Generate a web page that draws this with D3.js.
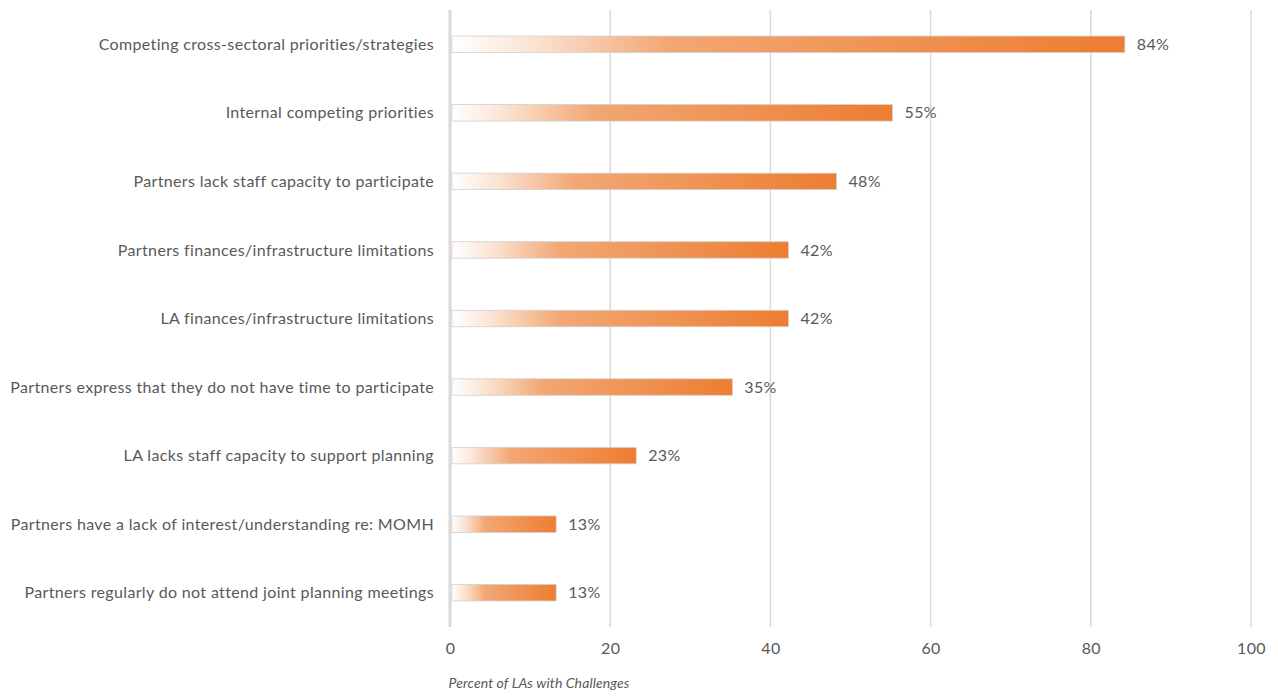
<!DOCTYPE html>
<html>
<head>
<meta charset="utf-8">
<script src="https://cdn.jsdelivr.net/npm/d3@7"></script>
<style>
  html, body { margin: 0; padding: 0; background: #fff; }
  svg { display: block; font-family: Lato, "Open Sans", sans-serif; }
</style>
</head>
<body>
<svg id="chart" width="1278" height="696"></svg>
<script>
// Challenges reported by local authorities (LAs)
const categories = [
  "Competing cross-sectoral priorities/strategies",
  "Internal competing priorities ",
  "Partners lack staff capacity to participate",
  "Partners finances/infrastructure limitations",
  "LA finances/infrastructure limitations",
  "Partners express that they do not have time to participate",
  "LA lacks staff capacity to support planning",
  "Partners have a lack of interest/understanding re: MOMH",
  "Partners regularly do not attend joint planning meetings"
];
const values = [84, 55, 48, 42, 42, 35, 23, 13, 13];
const xTicks = [0, 20, 40, 60, 80, 100];
const axisTitle = "Percent of LAs with Challenges";

const svg = d3.select("#chart");
const margin = { top: 10, right: 27, bottom: 69, left: 450 };
const W = 1278, H = 696;

const x = d3.scaleLinear().domain([0, 100]).range([margin.left, W - margin.right]);
const y = d3.scaleBand().domain(categories).range([margin.top, H - margin.bottom]).paddingInner(0.76).paddingOuter(0.38);

// per-bar gradient: pale at the base, full orange at the tip
const defs = svg.append("defs");
const grad = defs.append("linearGradient").attr("id", "barGrad")
  .attr("x1", "0%").attr("x2", "100%").attr("y1", "0%").attr("y2", "0%");
grad.append("stop").attr("offset", "0%").attr("stop-color", "#ffffff");
grad.append("stop").attr("offset", "12%").attr("stop-color", "#fbe3d3");
grad.append("stop").attr("offset", "32%").attr("stop-color", "#f2a774");
grad.append("stop").attr("offset", "100%").attr("stop-color", "#ed7d31");

// vertical gridlines
svg.append("g").selectAll("line").data(xTicks.filter(d => d > 0)).join("line")
  .attr("x1", d => x(d)).attr("x2", d => x(d))
  .attr("y1", margin.top).attr("y2", H - margin.bottom)
  .attr("stroke", "#d9d9d9").attr("stroke-width", 1.5);

// bars
svg.append("g").selectAll("rect").data(values).join("rect")
  .attr("x", x(0) + 2)
  .attr("y", (d, i) => y(categories[i]))
  .attr("width", d => x(d) - x(0))
  .attr("height", y.bandwidth())
  .attr("fill", "url(#barGrad)")
  .attr("stroke", "#d0d0d0").attr("stroke-width", 0.8);

// category axis line
svg.append("line")
  .attr("x1", x(0)).attr("x2", x(0))
  .attr("y1", margin.top).attr("y2", H - margin.bottom)
  .attr("stroke", "#d9d9d9").attr("stroke-width", 3);

const labelStyle = sel => sel
  .attr("font-size", 16)
  .attr("letter-spacing", 0.35)
  .attr("fill", "#595959");

// category labels
svg.append("g").selectAll("text").data(categories).join("text")
  .attr("x", x(0) - 16)
  .attr("y", d => y(d) + y.bandwidth() / 2)
  .attr("dy", "0.35em")
  .attr("text-anchor", "end")
  .call(labelStyle)
  .text(d => d);

// value labels
svg.append("g").selectAll("text").data(values).join("text")
  .attr("x", d => x(d) + 14)
  .attr("y", (d, i) => y(categories[i]) + y.bandwidth() / 2)
  .attr("dy", "0.35em")
  .call(labelStyle)
  .text(d => d + "%");

// x axis tick labels
const xAxis = d3.axisBottom(x).tickValues(xTicks).tickSize(0).tickPadding(0);
const gx = svg.append("g").attr("transform", `translate(0,${H - margin.bottom + 16})`).call(xAxis);
gx.select(".domain").remove();
gx.selectAll("text").attr("font-family", "Lato, sans-serif").call(labelStyle);

// axis title
svg.append("text")
  .attr("x", 539).attr("y", 688)
  .attr("text-anchor", "middle")
  .attr("font-size", 14).attr("font-style", "italic")
  .attr("letter-spacing", 0.1)
  .attr("fill", "#595959")
  .text(axisTitle);
</script>
</body>
</html>
